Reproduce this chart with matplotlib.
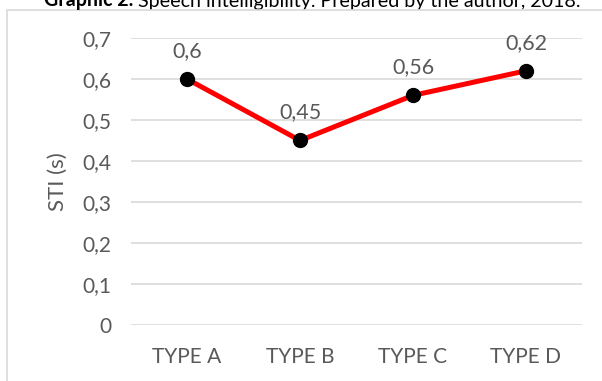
import matplotlib.pyplot as plt
from matplotlib.patches import Rectangle

plt.rcParams['font.family'] = ['Lato', 'DejaVu Sans']

categories = ["TYPE A", "TYPE B", "TYPE C", "TYPE D"]
sti_values = [0.6, 0.45, 0.56, 0.62]
y_ticks = [0, 0.1, 0.2, 0.3, 0.4, 0.5, 0.6, 0.7]

text_color = "#595959"
grid_color = "#d9d9d9"


def comma(v):
    return f"{v:g}".replace(".", ",")


fig = plt.figure(figsize=(6.02, 3.81), dpi=100)
ax = fig.add_axes([0.2168, 0.147, 0.7508, 0.7533])

# chart frame
fig.patches.append(Rectangle((6.5 / 602, -0.1), 1.2, 1.1 - 9.5 / 381,
                             transform=fig.transFigure, fill=False,
                             edgecolor=grid_color, linewidth=1.2))

# title: bold lead-in followed by the caption
t1 = fig.text(44 / 602, 1 - 6 / 381, "Graphic 2.", fontsize=14.1,
              fontweight="bold", color="black", ha="left", va="baseline")
ax.annotate(" Speech intelligibility. Prepared by the author, 2018.",
            xy=(1, 0), xycoords=t1, fontsize=14.1, color="black",
            ha="left", va="bottom", annotation_clip=False)

x = range(len(categories))
ax.plot(x, sti_values, color="#ff0000", linewidth=3.6, zorder=3,
        marker="o", markersize=10, markerfacecolor="black", markeredgecolor="black")

# value labels above the points
for xi, v in zip(x, sti_values):
    ax.annotate(comma(v), (xi, v), xytext=(0, 13),
                textcoords="offset points", ha="center", va="bottom",
                fontsize=15.5, color=text_color)

ax.set_xlim(-0.5, len(categories) - 0.5)
ax.set_ylim(0, 0.7)
ax.set_yticks(y_ticks)
ax.set_yticklabels([comma(t) for t in y_ticks])
ax.set_xticks(list(x))
ax.set_xticklabels(categories)
ax.tick_params(axis="both", length=0, labelsize=15, labelcolor=text_color)
ax.tick_params(axis="y", pad=14)
ax.tick_params(axis="x", pad=16)

ax.yaxis.grid(True, color=grid_color, linewidth=1.2)
ax.set_axisbelow(True)
for s in ax.spines.values():
    s.set_visible(False)

ax.set_ylabel("STI (s)", fontsize=16, color=text_color, labelpad=10)

fig.savefig("out.png", dpi=100)
